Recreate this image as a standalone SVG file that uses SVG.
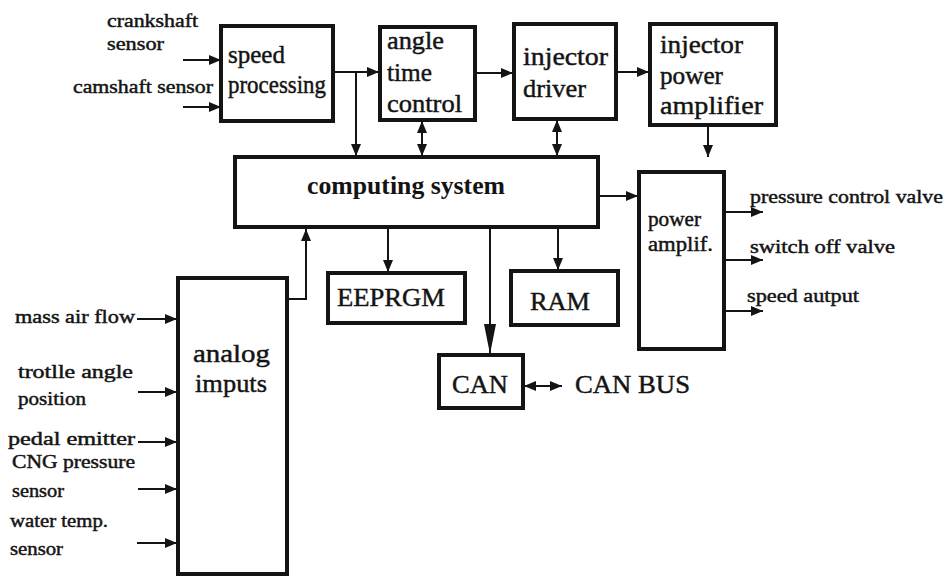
<svg xmlns="http://www.w3.org/2000/svg" width="947" height="576" viewBox="0 0 947 576" font-family="'Liberation Serif', 'DejaVu Serif', serif">
  <style>
    .box { fill: #fff; stroke: #141414; stroke-width: 4; }
    .wire { fill: none; stroke: #141414; stroke-width: 2; }
    .txt { font-family: "Liberation Serif", "DejaVu Serif", serif; fill: #141414; }
    .txt text { stroke: #141414; stroke-width: 0.45; }
    .big { font-size: 26px; }
    .mid { font-size: 20px; }
    .lbl { font-size: 18px; }
    .bold { font-weight: bold; font-size: 25px; }
    .bold text { stroke-width: 0; }
  </style>
  <defs>
    <marker id="arrow" viewBox="0 0 12 10" refX="12" refY="5" markerWidth="12" markerHeight="10" markerUnits="userSpaceOnUse" orient="auto-start-reverse">
      <path d="M0,0 L12,5 L0,10 z" fill="#141414"/>
    </marker>
    <marker id="arrowLong" viewBox="0 0 30 12" refX="30" refY="6" markerWidth="30" markerHeight="12" markerUnits="userSpaceOnUse" orient="auto">
      <path d="M0,0 L30,6 L0,12 z" fill="#141414"/>
    </marker>
  </defs>

  <rect width="947" height="576" fill="#fff"/>

  <!-- connectors -->
  <g id="connectors" class="wire">
    <line x1="183" y1="60" x2="221" y2="60" marker-end="url(#arrow)"/>
    <line x1="183" y1="107" x2="221" y2="107" marker-end="url(#arrow)"/>
    <line x1="333" y1="72" x2="379" y2="72" marker-end="url(#arrow)"/>
    <line x1="356" y1="72" x2="356" y2="156" marker-end="url(#arrow)"/>
    <line x1="475" y1="73" x2="513" y2="73" marker-end="url(#arrow)"/>
    <line x1="616" y1="72" x2="649" y2="72" marker-end="url(#arrow)"/>
    <line x1="422" y1="121" x2="422" y2="156" marker-start="url(#arrow)" marker-end="url(#arrow)"/>
    <line x1="557" y1="120" x2="557" y2="156" marker-start="url(#arrow)" marker-end="url(#arrow)"/>
    <line x1="708" y1="126" x2="708" y2="157" marker-end="url(#arrow)"/>
    <line x1="598" y1="196" x2="638" y2="196" marker-end="url(#arrow)"/>
    <line x1="724" y1="212" x2="763" y2="212" marker-end="url(#arrow)"/>
    <line x1="724" y1="260" x2="763" y2="260" marker-end="url(#arrow)"/>
    <line x1="724" y1="311" x2="763" y2="311" marker-end="url(#arrow)"/>
    <line x1="388" y1="228" x2="388" y2="272" marker-end="url(#arrow)"/>
    <line x1="558" y1="228" x2="558" y2="270" marker-end="url(#arrow)"/>
    <line x1="490" y1="228" x2="490" y2="354" marker-end="url(#arrowLong)"/>
    <line x1="524" y1="386" x2="562" y2="386" marker-start="url(#arrow)" marker-end="url(#arrow)"/>
    <polyline points="287,299 306,299 306,229" marker-end="url(#arrow)"/>
    <line x1="137" y1="319" x2="177" y2="319" marker-end="url(#arrow)"/>
    <line x1="138" y1="392" x2="177" y2="392" marker-end="url(#arrow)"/>
    <line x1="138" y1="442" x2="177" y2="442" marker-end="url(#arrow)"/>
    <line x1="138" y1="489" x2="177" y2="489" marker-end="url(#arrow)"/>
    <line x1="137" y1="543" x2="177" y2="543" marker-end="url(#arrow)"/>
  </g>

  <!-- sensor labels -->
  <g id="sensor-labels" class="txt lbl">
    <text x="107" y="27" textLength="91" lengthAdjust="spacingAndGlyphs">crankshaft</text>
    <text x="107" y="50" textLength="57" lengthAdjust="spacingAndGlyphs">sensor</text>
    <text x="73" y="93" textLength="140" lengthAdjust="spacingAndGlyphs">camshaft sensor</text>
    <text x="15" y="323" textLength="120" lengthAdjust="spacingAndGlyphs">mass air flow</text>
    <text x="18" y="378" textLength="115" lengthAdjust="spacingAndGlyphs">trotlle angle</text>
    <text x="18" y="405" textLength="68" lengthAdjust="spacingAndGlyphs">position</text>
    <text x="8" y="445" textLength="127" lengthAdjust="spacingAndGlyphs">pedal emitter</text>
    <text x="12" y="468" textLength="123" lengthAdjust="spacingAndGlyphs">CNG pressure</text>
    <text x="12" y="497" textLength="52" lengthAdjust="spacingAndGlyphs">sensor</text>
    <text x="10" y="527" textLength="98" lengthAdjust="spacingAndGlyphs">water temp.</text>
    <text x="10" y="555" textLength="53" lengthAdjust="spacingAndGlyphs">sensor</text>
  </g>

  <!-- output labels -->
  <g id="output-labels" class="txt lbl">
    <text x="750" y="203" textLength="193" lengthAdjust="spacingAndGlyphs">pressure control valve</text>
    <text x="750" y="253" textLength="145" lengthAdjust="spacingAndGlyphs">switch off valve</text>
    <text x="747" y="302" textLength="112" lengthAdjust="spacingAndGlyphs">speed autput</text>
  </g>

  <g id="speed-processing" class="txt big">
    <rect class="box" x="221" y="26" width="112" height="95"/>
    <text x="228" y="63" textLength="57" lengthAdjust="spacingAndGlyphs">speed</text>
    <text x="228" y="93" textLength="98" lengthAdjust="spacingAndGlyphs">processing</text>
  </g>

  <g id="angle-time-control" class="txt big">
    <rect class="box" x="380" y="27" width="95" height="93"/>
    <text x="387" y="49" textLength="57" lengthAdjust="spacingAndGlyphs">angle</text>
    <text x="387" y="81" textLength="45" lengthAdjust="spacingAndGlyphs">time</text>
    <text x="387" y="112" textLength="75" lengthAdjust="spacingAndGlyphs">control</text>
  </g>

  <g id="injector-driver" class="txt big">
    <rect class="box" x="514" y="24" width="102" height="95"/>
    <text x="523" y="65" textLength="85" lengthAdjust="spacingAndGlyphs">injector</text>
    <text x="523" y="97" textLength="63" lengthAdjust="spacingAndGlyphs">driver</text>
  </g>

  <g id="injector-power-amplifier" class="txt big">
    <rect class="box" x="650" y="24" width="126" height="101"/>
    <text x="660" y="53" textLength="83" lengthAdjust="spacingAndGlyphs">injector</text>
    <text x="660" y="84" textLength="63" lengthAdjust="spacingAndGlyphs">power</text>
    <text x="660" y="114" textLength="103" lengthAdjust="spacingAndGlyphs">amplifier</text>
  </g>

  <g id="computing-system" class="txt bold">
    <rect class="box" x="235" y="157" width="363" height="70"/>
    <text x="307" y="194" textLength="198" lengthAdjust="spacingAndGlyphs">computing system</text>
  </g>

  <g id="power-amplif" class="txt mid">
    <rect class="box" x="639" y="172" width="85" height="177"/>
    <text x="648" y="226" textLength="53" lengthAdjust="spacingAndGlyphs">power</text>
    <text x="648" y="251" textLength="65" lengthAdjust="spacingAndGlyphs">amplif.</text>
  </g>

  <g id="eeprgm" class="txt big">
    <rect class="box" x="328" y="273" width="137" height="50"/>
    <text x="337" y="306" textLength="108" lengthAdjust="spacingAndGlyphs">EEPRGM</text>
  </g>

  <g id="ram" class="txt big">
    <rect class="box" x="511" y="271" width="107" height="54"/>
    <text x="530" y="310" textLength="60" lengthAdjust="spacingAndGlyphs">RAM</text>
  </g>

  <g id="can" class="txt big">
    <rect class="box" x="439" y="355" width="84" height="53"/>
    <text x="452" y="393" textLength="56" lengthAdjust="spacingAndGlyphs">CAN</text>
  </g>

  <g id="can-bus" class="txt big">
    <text x="575" y="393" textLength="115" lengthAdjust="spacingAndGlyphs">CAN BUS</text>
  </g>

  <g id="analog-imputs" class="txt big">
    <rect class="box" x="178" y="278" width="109" height="296"/>
    <text x="193" y="362" textLength="77" lengthAdjust="spacingAndGlyphs">analog</text>
    <text x="195" y="392" textLength="72" lengthAdjust="spacingAndGlyphs">imputs</text>
  </g>
</svg>
